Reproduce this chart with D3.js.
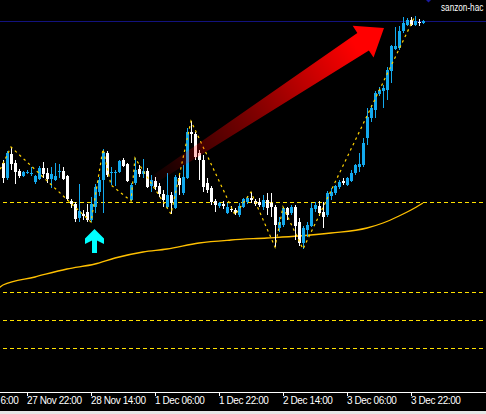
<!DOCTYPE html>
<html>
<head>
<meta charset="utf-8">
<script src="https://cdn.jsdelivr.net/npm/d3@7/dist/d3.min.js"></script>
<style>
  html, body { margin: 0; padding: 0; background: #000; }
  svg { display: block; }
</style>
</head>
<body>
<svg id="chart" width="486" height="414"></svg>
<script>
/*
Data (H1 bars)
*/

const opens = [4137,4122,4146,4137,4129,4124,4127,4126,4118,4121,4132,4127,4121,4120,4128,4129,4124,4099,4096,4082,
  4086,4088,4080,4093,4108,4120,4147,4127,4127,4128,4140,4136,4100,4117,4131,4126,4129,4114,4119,4114,
  4106,4093,4105,4092,4122,4107,4122,4168,4166,4147,4140,4117,4112,4099,4094,4096,4087,4091,4090,4085,
  4093,4098,4102,4099,4098,4093,4100,4097,4093,4072,4075,4092,4087,4093,4078,4057,4070,4074,4091,4094,
  4088,4085,4104,4107,4113,4119,4115,4119,4127,4133,4135,4162,4182,4190,4206,4209,4210,4229,4251,4252,
  4269,4275,4280,4275,4278,4277];
const highs = [4140,4149,4153,4140,4131,4129,4130,4133,4125,4134,4138,4132,4133,4137,4136,4133,4125,4101,4098,4116,
  4090,4096,4103,4116,4123,4151,4149,4133,4130,4140,4142,4137,4117,4142,4135,4141,4132,4125,4123,4117,
  4110,4127,4108,4125,4125,4135,4172,4179,4168,4150,4145,4122,4114,4101,4098,4099,4097,4094,4092,4097,
  4102,4104,4108,4101,4102,4105,4107,4107,4095,4083,4093,4093,4095,4095,4082,4074,4078,4097,4098,4099,
  4098,4109,4112,4115,4120,4122,4123,4130,4136,4147,4162,4192,4195,4209,4213,4215,4233,4255,4273,4274,
  4283,4282,4283,4284,4281,4280];
const lows = [4117,4120,4130,4116,4122,4123,4126,4124,4116,4120,4122,4117,4112,4119,4122,4120,4099,4092,4078,4078,
  4080,4078,4078,4087,4104,4087,4123,4115,4114,4127,4133,4118,4099,4115,4123,4122,4112,4108,4110,4103,
  4093,4092,4086,4091,4105,4105,4121,4157,4140,4120,4108,4107,4095,4088,4092,4091,4086,4088,4085,4083,
  4092,4096,4097,4094,4093,4090,4085,4083,4053,4068,4073,4080,4085,4060,4054,4051,4063,4073,4088,4084,
  4072,4083,4100,4105,4111,4115,4114,4118,4125,4128,4133,4155,4178,4182,4204,4192,4200,4217,4250,4250,
  4267,4274,4274,4274,4274,4276];
const closes = [4122,4147,4136,4128,4124,4128,4128,4127,4124,4132,4126,4121,4126,4124,4129,4121,4101,4096,4081,4089,
  4084,4080,4096,4113,4120,4148,4125,4128,4128,4139,4134,4119,4115,4130,4126,4129,4113,4120,4113,4106,
  4100,4105,4097,4123,4115,4123,4168,4166,4143,4140,4113,4110,4098,4095,4097,4094,4093,4090,4087,4094,
  4101,4102,4100,4096,4095,4100,4092,4093,4075,4078,4092,4085,4093,4074,4057,4072,4075,4092,4095,4087,
  4083,4107,4108,4114,4118,4117,4122,4127,4135,4136,4157,4183,4192,4207,4210,4212,4230,4254,4254,4269,
  4277,4280,4275,4279,4277,4279];

// moving average, sampled at bar indices
const maIndex = [-1, 0, 8, 16, 23, 28, 35, 41, 49, 57, 66, 74, 82, 91, 95, 99, 102, 105];
const maValue = [4012, 4015, 4023, 4031, 4036, 4042, 4048, 4051, 4057, 4060, 4062, 4064, 4067, 4072, 4077, 4084, 4090, 4097];

// zigzag vertices
const zzIndex = [-2, 2, 22, 25, 27, 32, 33, 42, 47, 58, 62, 68, 70, 75, 103];
const zzValue = [4120, 4153, 4078, 4151, 4115, 4099, 4142, 4086, 4179, 4085, 4108, 4053, 4093, 4051, 4284];

// horizontal levels
const levels = [4098, 4008, 3980, 3952];
const topLine = 4279;

// time axis (first label only shows its tail at the left edge)
const tickIndex = [6, 22, 38, 54, 70, 86, 102];
const tickLabels = ["27 Nov 22:00", "28 Nov 14:00", "1 Dec 06:00",
  "1 Dec 22:00", "2 Dec 14:00", "3 Dec 06:00", "3 Dec 22:00"];
const edgeLabel = "6:00";

// annotations
const redArrowFrom = [36.75, 4118];
const redArrowTo = [95.25, 4272];
const buyArrow = [23, 4071];
const label = "sanzon-hac";

/*
Setup
*/

const W = 486, H = 414;
const svg = d3.select("#chart");

svg.append("rect").attr("width", W).attr("height", H).attr("fill", "#000");

const x = d3.scaleLinear().domain([0, 105]).range([3, 423]);
const y = d3.scaleLinear().domain([3909, 4300]).range([391, 0]);
const crisp = v => Math.round(v) + 0.5;

const bars = opens.map((o, i) => ({ i: i, o: o, h: highs[i], l: lows[i], c: closes[i] }));

/*
Levels and moving average (behind bars)
*/

svg.append("g").selectAll("line")
  .data(levels)
  .enter().append("line")
  .attr("x1", 3).attr("x2", W)
  .attr("y1", d => crisp(y(d))).attr("y2", d => crisp(y(d)))
  .attr("stroke", "#FFE100")
  .attr("stroke-width", 1)
  .attr("stroke-dasharray", "4,3");

svg.append("line")
  .attr("x1", 0).attr("x2", W)
  .attr("y1", crisp(y(topLine))).attr("y2", crisp(y(topLine)))
  .attr("stroke", "#12127e");

const ma = maIndex.map((d, k) => [d, maValue[k]]);
svg.append("path")
  .datum(ma)
  .attr("fill", "none")
  .attr("stroke", "#FFC000")
  .attr("stroke-width", 1.3)
  .attr("d", d3.line().x(d => x(d[0])).y(d => y(d[1])).curve(d3.curveMonotoneX));

/*
Candles
*/

const bull = "#13A9EE", bear = "#FFFFFF";
const candle = svg.append("g").selectAll("g")
  .data(bars)
  .enter().append("g");

candle.append("line")
  .attr("x1", d => x(d.i) + 0.5).attr("x2", d => x(d.i) + 0.5)
  .attr("y1", d => y(d.h)).attr("y2", d => y(d.l))
  .attr("stroke", d => d.c >= d.o ? bull : bear)
  .attr("stroke-width", 1);

candle.append("rect")
  .attr("x", d => x(d.i) - 1)
  .attr("width", 3)
  .attr("y", d => y(Math.max(d.o, d.c)))
  .attr("height", d => Math.max(1, Math.abs(y(d.o) - y(d.c))))
  .attr("fill", d => d.c >= d.o ? bull : bear);

/*
Zigzag
*/

const zz = zzIndex.map((d, k) => [d, zzValue[k]]);
svg.append("path")
  .datum(zz)
  .attr("fill", "none")
  .attr("stroke", "#FFD200")
  .attr("stroke-width", 1.2)
  .attr("stroke-dasharray", "2.5,3.5")
  .attr("d", d3.line().x(d => x(d[0])).y(d => y(d[1])));

/*
Red arrow
*/

const p0 = [x(redArrowFrom[0]), y(redArrowFrom[1])];
const p1 = [x(redArrowTo[0]), y(redArrowTo[1])];
const len = Math.hypot(p1[0] - p0[0], p1[1] - p0[1]);
const ux = (p1[0] - p0[0]) / len, uy = (p1[1] - p0[1]) / len;
const nx = -uy, ny = ux;
const headLen = 25, headHalf = 19, neckHalf = 10.5, tailHalf = 4;
const bx = p1[0] - ux * headLen, by = p1[1] - uy * headLen;

const grad = svg.append("defs").append("linearGradient")
  .attr("id", "redfade")
  .attr("gradientUnits", "userSpaceOnUse")
  .attr("x1", p0[0]).attr("y1", p0[1])
  .attr("x2", p1[0]).attr("y2", p1[1]);
[[0, 0.02], [0.2, 0.25], [0.45, 0.5], [0.7, 0.8], [0.88, 1]].forEach(s => {
  grad.append("stop").attr("offset", s[0]).attr("stop-color", "#FF0000").attr("stop-opacity", s[1]);
});

const arrowPts = [
  [p0[0] + nx * tailHalf, p0[1] + ny * tailHalf],
  [bx + nx * neckHalf, by + ny * neckHalf],
  [bx + nx * headHalf, by + ny * headHalf],
  p1,
  [bx - nx * headHalf, by - ny * headHalf],
  [bx - nx * neckHalf, by - ny * neckHalf],
  [p0[0] - nx * tailHalf, p0[1] - ny * tailHalf]
];
svg.append("path")
  .attr("d", "M" + arrowPts.map(p => p.join(",")).join("L") + "Z")
  .attr("fill", "url(#redfade)");

/*
Buy arrow
*/

const bxTip = x(buyArrow[0]) - 0.5, byTip = y(buyArrow[1]);
const upShape = [[0, 0], [-9.5, 9.5], [-9.5, 15], [-2.5, 11.5], [-2.5, 24], [2.5, 24], [2.5, 11.5], [9.5, 15], [9.5, 9.5]];
svg.append("path")
  .attr("d", "M" + upShape.map(p => (bxTip + p[0]) + "," + (byTip + p[1])).join("L") + "Z")
  .attr("fill", "#00FFFF");

/*
Time axis
*/

const font = "'Liberation Sans', Arial, sans-serif";

svg.append("line")
  .attr("x1", 0).attr("x2", W)
  .attr("y1", 392.5).attr("y2", 392.5)
  .attr("stroke", "#FFFFFF");

const ticks = svg.append("g").selectAll("g")
  .data(tickIndex)
  .enter().append("g")
  .attr("transform", d => "translate(" + (x(d) + 0.5) + ",0)");

ticks.append("line")
  .attr("y1", 392).attr("y2", 396)
  .attr("stroke", "#FFFFFF");

ticks.append("text")
  .attr("x", -0.5).attr("y", 404)
  .attr("fill", "#FFFFFF")
  .attr("font-family", font)
  .attr("font-size", 10)
  .attr("letter-spacing", -0.4)
  .text((d, k) => tickLabels[k]);

svg.append("text")
  .attr("x", 0.5).attr("y", 404)
  .attr("fill", "#FFFFFF")
  .attr("font-family", font)
  .attr("font-size", 10)
  .attr("letter-spacing", -0.4)
  .text(edgeLabel);

svg.append("rect")
  .attr("x", 0).attr("y", 411).attr("width", W).attr("height", 3)
  .attr("fill", "#E6E6E6");

/*
Top right label and marker
*/

svg.append("text")
  .attr("transform", "translate(441,11) scale(0.78,1)")
  .attr("fill", "#FFFFFF")
  .attr("font-family", font)
  .attr("font-size", 10.5)
  .text(label);

svg.append("path")
  .attr("d", "M426,0L431,0L428.5,2.5Z")
  .attr("fill", "#1a1aa0");
</script>
</body>
</html>
